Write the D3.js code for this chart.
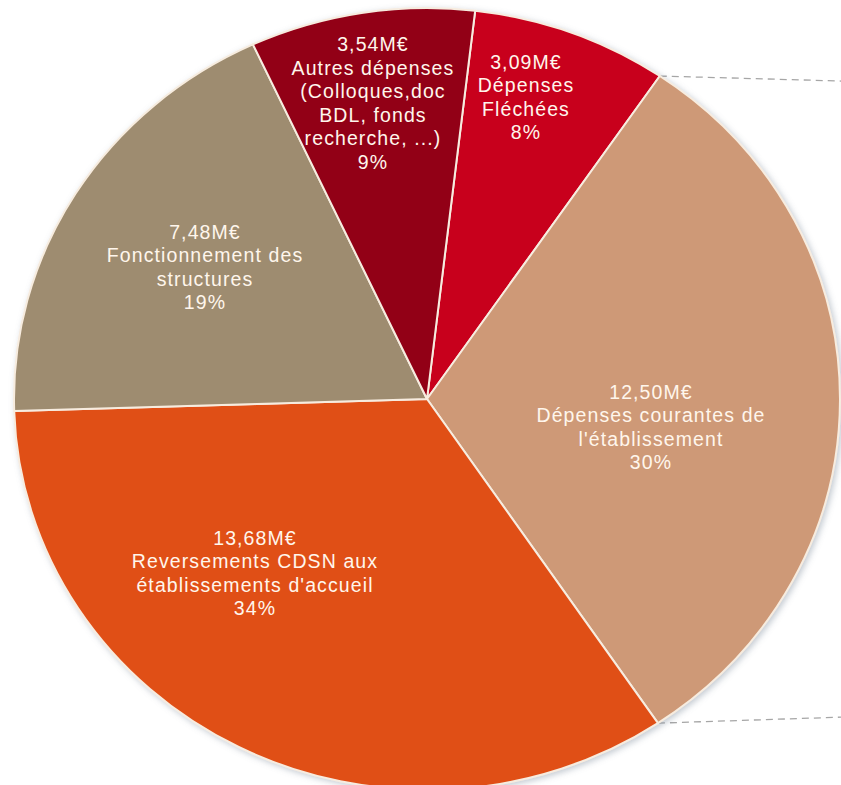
<!DOCTYPE html>
<html>
<head>
<meta charset="utf-8">
<script src="https://cdn.jsdelivr.net/npm/d3@7/dist/d3.min.js"></script>
<style>
  html, body { margin: 0; padding: 0; background: #ffffff; }
  svg { display: block; }
  text { font-family: "Liberation Sans", Arial, sans-serif; }
</style>
</head>
<body>
<svg id="chart" width="841" height="785"></svg>
<script>
// ---- data ----
const categories = [
  "Dépenses Fléchées",
  "Dépenses courantes de l'établissement",
  "Reversements CDSN aux établissements d'accueil",
  "Fonctionnement des structures",
  "Autres dépenses (Colloques,doc BDL, fonds recherche, ...)"
];
const valuesMEUR = [3.09, 12.50, 13.68, 7.48, 3.54];
const percentLabels = ["8%", "30%", "34%", "19%", "9%"];
const nameLines = [
  ["Dépenses", "Fléchées"],
  ["Dépenses courantes de", "l'établissement"],
  ["Reversements CDSN aux", "établissements d'accueil"],
  ["Fonctionnement des", "structures"],
  ["Autres dépenses", "(Colloques,doc", "BDL, fonds", "recherche, ...)"]
];
const colors = ["#C8001B", "#CE9977", "#E04F18", "#9E8C70", "#920019"];

// ---- layout ----
const cx = 427, cy = 399, ry = 391, rx = 413;
const kx = rx / ry;
const startDeg = 6.7;
const labelCenters = [[526, 97], [651, 427], [255, 573], [205, 267], [373, 103]];
const lineH = 23.6;

const svg = d3.select("#chart");
const defs = svg.append("defs");
const f = defs.append("filter").attr("id", "shadow")
  .attr("x", "-10%").attr("y", "-10%").attr("width", "120%").attr("height", "120%");
f.append("feDropShadow").attr("dx", 2).attr("dy", 2).attr("stdDeviation", 3)
  .attr("flood-color", "#7a8a99").attr("flood-opacity", 0.45);

const pie = d3.pie().sort(null).value(d => d)
  .startAngle(startDeg * Math.PI / 180)
  .endAngle(startDeg * Math.PI / 180 + 2 * Math.PI);
const arcs = pie(valuesMEUR);
const arc = d3.arc().innerRadius(0).outerRadius(ry);

// point on ellipse boundary for angle a
const ptAt = a => [cx + kx * ry * Math.sin(a), cy - ry * Math.cos(a)];

// dashed series lines (to the off-chart second plot)
const p1 = ptAt(arcs[0].endAngle), p2 = ptAt(arcs[1].endAngle);
const lines = [
  [p1, [841, p1[1] + 5]],
  [p2, [841, p2[1] - 6]]
];
svg.append("g").selectAll("line").data(lines).join("line")
  .attr("x1", d => d[0][0]).attr("y1", d => d[0][1])
  .attr("x2", d => d[1][0]).attr("y2", d => d[1][1])
  .attr("stroke", "#a6a6a6").attr("stroke-width", 1.3)
  .attr("stroke-dasharray", "7,5");

const g = svg.append("g")
  .attr("filter", "url(#shadow)")
  .attr("transform", `translate(${cx},${cy}) scale(${kx},1)`);

g.selectAll("path").data(arcs).join("path")
  .attr("d", arc)
  .attr("fill", (d, i) => colors[i])
  .attr("stroke", "#f7ecdf")
  .attr("stroke-width", 2)
  .attr("vector-effect", "non-scaling-stroke")
  .attr("stroke-linejoin", "round");

const fmt = v => d3.format(".2f")(v).replace(".", ",") + "M€";

const lbl = svg.append("g");
valuesMEUR.forEach((v, i) => {
  const ls = [fmt(v), ...nameLines[i], percentLabels[i]];
  const [x, yc] = labelCenters[i];
  const y0 = yc - (ls.length - 1) * lineH / 2;
  const t = lbl.append("text")
    .attr("text-anchor", "middle")
    .attr("fill", "#fff6ec")
    .attr("font-size", 19.5)
    .attr("letter-spacing", 1.1);
  ls.forEach((s, j) => {
    t.append("tspan").attr("x", x).attr("y", y0 + j * lineH)
      .attr("dominant-baseline", "central").text(s);
  });
});
</script>
</body>
</html>
